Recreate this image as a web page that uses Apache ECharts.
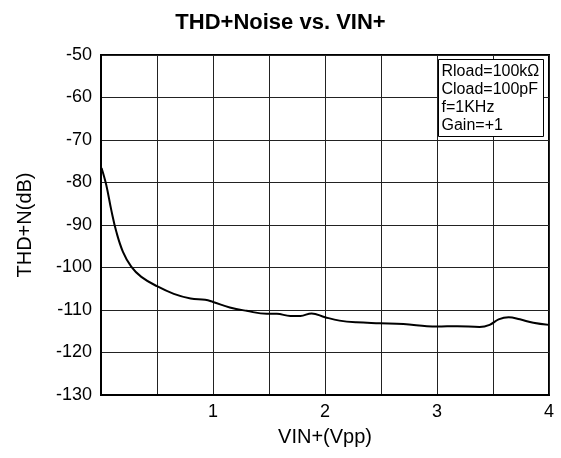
<!DOCTYPE html>
<html>
<head>
<meta charset="utf-8">
<script src="https://cdn.jsdelivr.net/npm/echarts@6/dist/echarts.min.js"></script>
<style>html,body{margin:0;padding:0;background:#fff;}#c{width:561px;height:458px;}</style>
</head>
<body>
<div id="c"></div>
<script>
var titleText = 'THD+Noise vs. VIN+';
var xName = 'VIN+(Vpp)';
var yName = 'THD+N(dB)';
var noteLines = ['Rload=100k\u03A9', 'Cload=100pF', 'f=1KHz', 'Gain=+1'];
var vin = [0.005, 0.047, 0.092, 0.137, 0.196, 0.27, 0.36, 0.5, 0.65, 0.8, 0.93, 1.0, 1.15, 1.3, 1.48, 1.57, 1.69, 1.78, 1.88, 2.0, 2.13, 2.28, 2.49, 2.7, 2.91, 3.0, 3.18, 3.38, 3.47, 3.55, 3.64, 3.74, 3.86, 4.0];
var thdn = [-76.6, -80.6, -86.5, -91.6, -96.3, -99.8, -102.2, -104.4, -106.2, -107.3, -107.6, -108.1, -109.4, -110.2, -110.9, -110.9, -111.4, -111.4, -110.8, -111.7, -112.5, -112.9, -113.1, -113.3, -113.8, -113.9, -113.8, -114.0, -113.5, -112.2, -111.7, -112.2, -113.0, -113.5];
var xTickLabels = ['1', '2', '3', '4'];

var pts = vin.map(function (v, i) { return [v, thdn[i]]; });
var font = 'Liberation Sans, Arial, sans-serif';
var chart = echarts.init(document.getElementById('c'));
chart.setOption({
  animation: false,
  title: {
    text: titleText, left: 'center', top: 7,
    textStyle: { fontFamily: font, fontSize: 22, fontWeight: 'bold', color: '#000' }
  },
  grid: { left: 101, right: 12, top: 55, bottom: 63, show: true, borderColor: '#000', borderWidth: 2, backgroundColor: 'transparent' },
  xAxis: {
    type: 'value', min: 0, max: 4, interval: 0.5,
    name: xName, nameLocation: 'middle', nameGap: 32,
    nameTextStyle: { fontFamily: font, fontSize: 20, color: '#000' },
    axisLine: { show: true, lineStyle: { color: '#000', width: 2 } },
    axisTick: { show: false },
    splitLine: { show: true, lineStyle: { color: '#222', width: 1 } },
    axisLabel: {
      fontFamily: font, fontSize: 18, color: '#000', margin: 8, showMinLabel: true, showMaxLabel: true,
      formatter: function (v) { var s = String(v); return xTickLabels.indexOf(s) >= 0 ? s : ''; }
    }
  },
  yAxis: {
    type: 'value', min: -130, max: -50, interval: 10,
    name: yName, nameLocation: 'middle', nameGap: 66,
    nameTextStyle: { fontFamily: font, fontSize: 20, color: '#000' },
    axisLine: { show: true, lineStyle: { color: '#000', width: 2 } },
    axisTick: { show: false },
    splitLine: { show: true, lineStyle: { color: '#222', width: 1 } },
    axisLabel: { fontFamily: font, fontSize: 18, color: '#000', margin: 9 }
  },
  graphic: [{
    type: 'group', left: 438, top: 59, z: 100,
    children: [
      { type: 'rect', z: 100, shape: { x: 0, y: 0, width: 105, height: 77 }, style: { fill: '#fff', stroke: '#000', lineWidth: 1 } },
      { type: 'text', z: 101, x: 3, y: 3, style: { text: noteLines.join('\n'), fontFamily: font, fontSize: 16, lineHeight: 18, fill: '#000' } }
    ]
  }],
  series: [{
    type: 'line', data: pts, showSymbol: false, smooth: 0.4,
    lineStyle: { color: '#000', width: 2 }
  }]
});
</script>
</body>
</html>
